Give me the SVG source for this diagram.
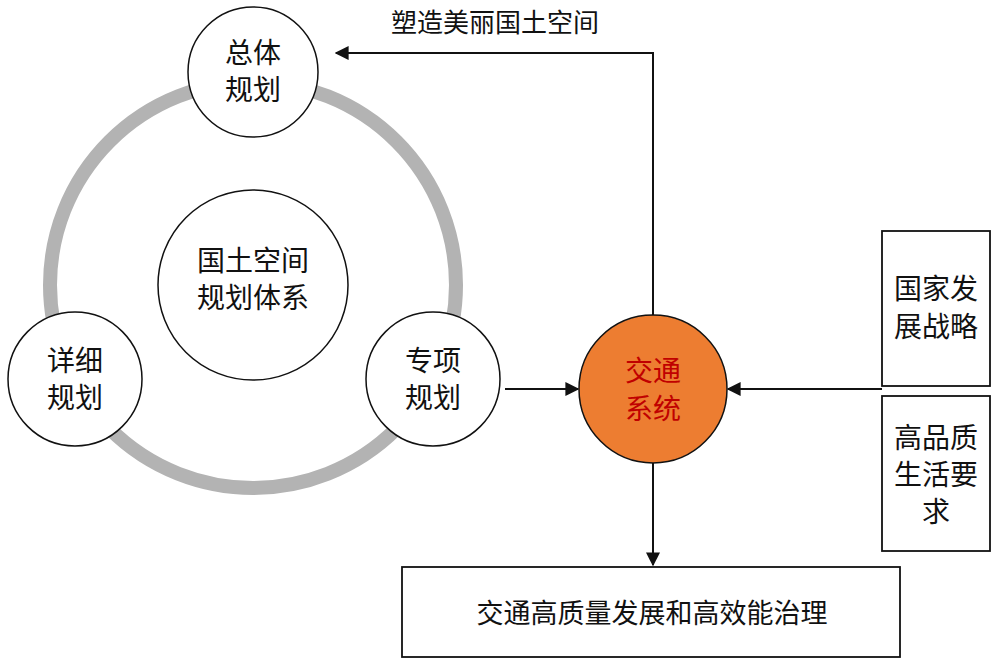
<svg xmlns="http://www.w3.org/2000/svg" width="998" height="662" viewBox="0 0 998 662">
<style>
text{font-family:"Noto Sans CJK SC",sans-serif;font-size:28px;fill:#111;text-anchor:middle}
.c{fill:#fff;stroke:#111;stroke-width:1.5}
.b{fill:#fff;stroke:#111;stroke-width:1.8}
.l{stroke:#111;stroke-width:2;fill:none}
</style>
<defs><marker id="a2" viewBox="0 0 10 10" refX="9" refY="5" markerWidth="14" markerHeight="14" markerUnits="userSpaceOnUse" orient="auto"><path d="M0,0L10,5L0,10z" fill="#111"/></marker></defs>
<rect width="998" height="662" fill="#fff"/>
<circle cx="253" cy="285" r="203" fill="none" stroke="#b3b3b3" stroke-width="14"/>
<g id="connectors">
<path class="l" d="M653,315V53H336" marker-end="url(#a2)"/>
<path class="l" d="M505,389H578" marker-end="url(#a2)"/>
<path class="l" d="M882,389H728" marker-end="url(#a2)"/>
<path class="l" d="M653,463V565" marker-end="url(#a2)"/>
</g>
<text x="495" y="32" style="font-size:26px">塑造美丽国土空间</text>
<g id="n_zongti"><circle class="c" cx="253" cy="72" r="65"/><text x="253" y="63">总体</text><text x="253" y="100">规划</text></g>
<g id="n_center"><circle class="c" cx="253" cy="285" r="95"/><text x="253" y="271">国土空间</text><text x="253" y="308">规划体系</text></g>
<g id="n_xiangxi"><circle class="c" cx="75" cy="379" r="67"/><text x="75" y="371">详细</text><text x="75" y="408">规划</text></g>
<g id="n_zhuanxiang"><circle class="c" cx="433" cy="379" r="67"/><text x="433" y="371">专项</text><text x="433" y="408">规划</text></g>
<g id="n_jiaotong"><circle cx="653" cy="389" r="74" fill="#ed7d31" stroke="#111" stroke-width="1.5"/><text x="653" y="381" style="fill:#c00000">交通</text><text x="653" y="419" style="fill:#c00000">系统</text></g>
<g id="n_guojia"><rect class="b" x="882" y="231" width="108" height="155"/><text x="936" y="299">国家发</text><text x="936" y="337">展战略</text></g>
<g id="n_gaopin"><rect class="b" x="882" y="396" width="108" height="155"/><text x="936" y="448">高品质</text><text x="936" y="485">生活要</text><text x="936" y="522">求</text></g>
<g id="n_bottom"><rect class="b" x="402" y="567" width="498" height="90"/><text x="652" y="623" style="font-size:27px">交通高质量发展和高效能治理</text></g>
</svg>
